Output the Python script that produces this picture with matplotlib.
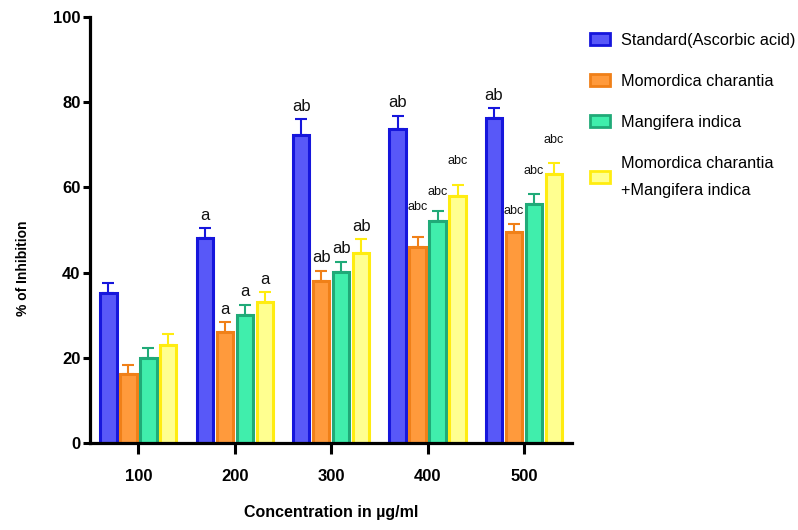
import numpy as np
import matplotlib
matplotlib.use("Agg")
import matplotlib.pyplot as plt
from matplotlib.patches import Patch

# data
concentrations = ["100", "200", "300", "400", "500"]
series_names = [
    "Standard(Ascorbic acid)",
    "Momordica charantia",
    "Mangifera indica",
    "Momordica charantia\n+Mangifera indica",
]
standard = [35.2, 48.1, 72.3, 73.7, 76.3]
momordica = [16.2, 26.1, 38.0, 46.0, 49.5]
mangifera = [20.0, 30.0, 40.1, 52.1, 56.1]
combo = [23.0, 33.1, 44.6, 58.0, 63.1]

standard_err = [2.3, 2.3, 3.7, 3.1, 2.3]
momordica_err = [2.1, 2.3, 2.4, 2.4, 1.9]
mangifera_err = [2.3, 2.4, 2.4, 2.4, 2.4]
combo_err = [2.6, 2.3, 3.2, 2.6, 2.6]

standard_sig = ["", "a", "ab", "ab", "ab"]
momordica_sig = ["", "a", "ab", "abc", "abc"]
mangifera_sig = ["", "a", "ab", "abc", "abc"]
combo_sig = ["", "a", "ab", "abc", "abc"]

values = [standard, momordica, mangifera, combo]
errors = [standard_err, momordica_err, mangifera_err, combo_err]
sigs = [standard_sig, momordica_sig, mangifera_sig, combo_sig]

fills = ["#5858f8", "#ff9a3c", "#40eeac", "#ffff90"]
edges = ["#1616dc", "#f08018", "#20aa78", "#ffec10"]

FONT = ["Liberation Sans", "DejaVu Sans"]

# label offsets (points above the error cap)
sig_pad = [
    [0, 4, 4, 4, 4],
    [0, 4, 4, 17, 5],
    [0, 4, 4, 9, 12],
    [0, 4, 4, 13, 12],
]


def main():
    fig = plt.figure(figsize=(7.98, 5.30), dpi=100)
    ax = fig.add_axes([0.113, 0.164, 0.604, 0.804])

    x = np.arange(len(concentrations))
    step = 0.207
    width = 0.17
    for i in range(4):
        xs = x + (i - 1.5) * step
        ax.bar(xs, values[i], width=width, color=fills[i], edgecolor=edges[i],
               linewidth=2.2, zorder=2)
        ax.errorbar(xs, values[i], yerr=[np.zeros(5), errors[i]], fmt="none",
                    ecolor=edges[i], elinewidth=1.5, capsize=4, capthick=1.5, zorder=1)
        for j in range(5):
            s = sigs[i][j]
            if not s:
                continue
            fs = 9 if s == "abc" else 12
            ax.annotate(s, (xs[j], values[i][j] + errors[i][j]),
                        xytext=(0, sig_pad[i][j]), textcoords="offset points",
                        ha="center", va="bottom", fontsize=fs, family=FONT,
                        color="#111111")

    ax.set_xlim(-0.5, 4.5)
    ax.set_ylim(0, 100)
    ax.set_yticks([0, 20, 40, 60, 80, 100])
    ax.set_xticks(x)
    ax.set_xticklabels(concentrations)
    for sp in ["top", "right"]:
        ax.spines[sp].set_visible(False)
    for sp in ["left", "bottom"]:
        ax.spines[sp].set_linewidth(2.3)
    ax.tick_params(axis="y", length=5, width=2.2, pad=2)
    ax.tick_params(axis="x", length=8, width=2.2, pad=11)
    for lab in ax.get_xticklabels() + ax.get_yticklabels():
        lab.set_family(FONT)
        lab.set_fontweight("bold")
        lab.set_fontsize(12)

    ax.set_xlabel("Concentration in µg/ml", family=FONT, fontsize=11.5,
                  fontweight="bold", labelpad=15)
    ax.set_ylabel("% of Inhibition", family=FONT, fontsize=10, fontweight="bold")
    ax.yaxis.set_label_coords(-0.125, 0.41)

    handles = [Patch(facecolor=fills[i], edgecolor=edges[i], linewidth=2)
               for i in range(4)]
    leg = ax.legend(handles, series_names, loc="upper left",
                    bbox_to_anchor=(1.006, 0.997), frameon=False,
                    prop={"family": FONT, "size": 11.7},
                    handlelength=1.25, handleheight=0.75, handletextpad=0.7,
                    labelspacing=1.6)
    for t in leg.get_texts():
        t.set_linespacing(2.0)

    fig.savefig("out.png", dpi=100)
    plt.close(fig)


if __name__ == "__main__":
    main()
